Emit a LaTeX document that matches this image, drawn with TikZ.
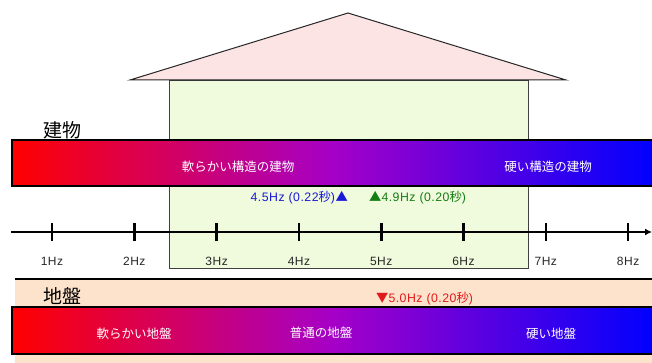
\documentclass[tikz,border=0pt]{standalone}
\usepackage{fontspec}
\setmainfont{Liberation Sans}
\newfontfamily\jp{Noto Sans CJK JP}
\newfontfamily\mk[LetterSpace=4]{Liberation Sans}
\usetikzlibrary{arrows.meta}
\definecolor{roofpink}{RGB}{252,228,228}
\definecolor{wallgreen}{RGB}{240,250,220}
\definecolor{peach}{RGB}{253,227,204}
\definecolor{midmag}{RGB}{165,0,200}
\definecolor{hzblue}{RGB}{25,25,215}
\definecolor{hzgreen}{RGB}{20,125,20}
\definecolor{hzred}{RGB}{225,25,25}
\begin{document}
\begin{tikzpicture}[x=1pt,y=-1pt,
  bar/.style={draw=black, line width=2.2pt, left color=red, right color=blue, middle color=midmag},
  bartext/.style={text=white, font=\jp\fontsize{12.5}{14}\selectfont},
  heading/.style={font=\jp\fontsize{19}{21}\selectfont},
  ticklabel/.style={font=\mk\fontsize{12}{14}\selectfont, text=black!85},
  marker/.style={font=\mk\fontsize{12.3}{14}\selectfont, inner sep=0pt},
  tickmark/.style={line width=2.6pt}]
\useasboundingbox (0,0) rectangle (652,363);
% house
\draw[fill=wallgreen, draw=black!75, line width=0.9pt] (169,80) rectangle (528,268);
\draw[fill=roofpink, draw=black!85, line width=1pt] (130,80) -- (348,13) -- (566,80) -- cycle;
% building bar
\path[bar] (12,140) rectangle (656,186);
\node[heading] (tatemono) at (62,130) {建物};
\node[bartext] (softbld) at (238,167) {軟らかい構造の建物};
\node[bartext] (hardbld) at (548,167) {硬い構造の建物};
% markers
\node[marker, text=hzblue, anchor=east] (m45) at (348,198) {4.5Hz (0.22{\jp 秒})\kern0.5pt{\jp ▲}};
\node[marker, text=hzgreen, anchor=west] (m49) at (369,198) {{\jp ▲}4.9Hz (0.20{\jp 秒})};
% axis
\coordinate (axs) at (11,232);
\coordinate (axe) at (652,232);
\draw[line width=1.8pt, -{Latex[length=7pt,width=7pt]}] (axs) -- (axe);
\foreach \i in {1,...,8}{
  \pgfmathsetmacro{\xx}{52+(\i-1)*82.3}
  \coordinate (t\i) at (\xx,232);
  \draw[tickmark] ([yshift=-8.5pt]t\i) -- ([yshift=9pt]t\i);
  \node[ticklabel, text depth=0pt] (l\i) at (\xx,261) {\i Hz};
}
% ground
\fill[peach] (15,279) rectangle (656,366);
\draw[line width=1.6pt] (15,279) -- (656,279);
\node[heading] (jiban) at (62,296) {地盤};
\node[marker, text=hzred, anchor=west] (m50) at (376,299) {{\jp ▼}5.0Hz (0.20{\jp 秒})};
\path[bar] (12,307) rectangle (656,354);
\node[bartext] (softgnd) at (134,334) {軟らかい地盤};
\node[bartext] (midgnd) at (321,333) {普通の地盤};
\node[bartext] (hardgnd) at (551,334) {硬い地盤};
\end{tikzpicture}
\end{document}
